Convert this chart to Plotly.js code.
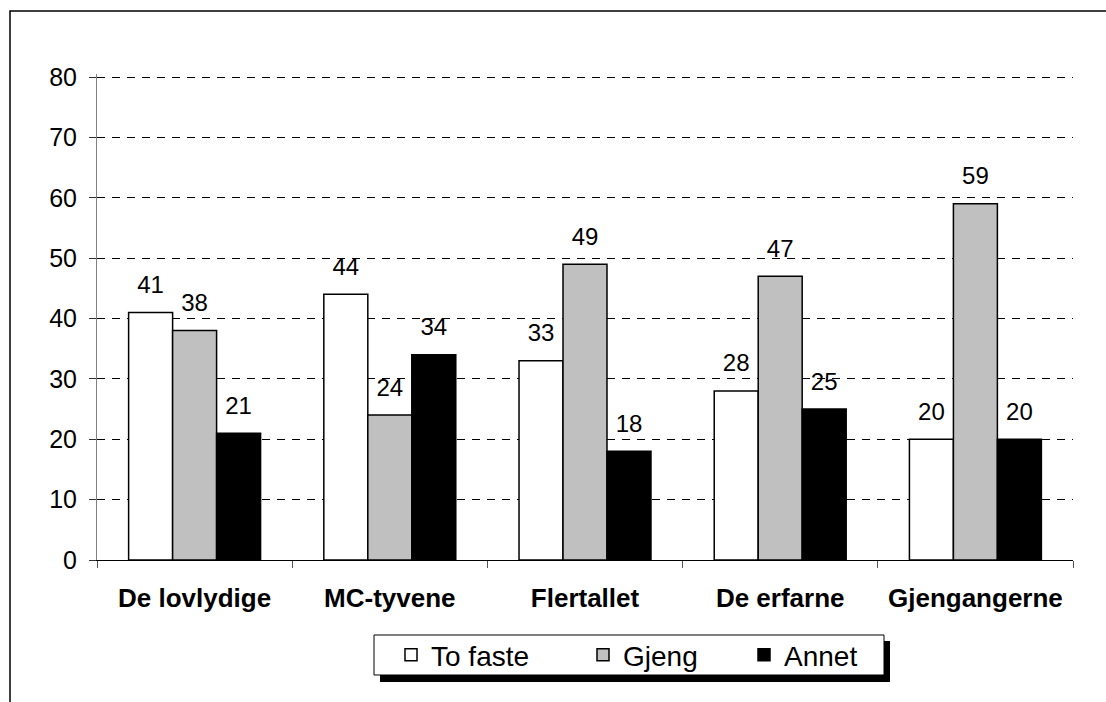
<!DOCTYPE html>
<html>
<head>
<meta charset="utf-8">
<script src="https://cdn.plot.ly/plotly-3.0.1.min.js"></script>
<style>
  html, body { margin: 0; padding: 0; background: #fff; }
  #chart { width: 1106px; height: 702px; }
</style>
</head>
<body>
<div id="chart"></div>
<script>
const categories = ["De lovlydige", "MC-tyvene", "Flertallet", "De erfarne", "Gjengangerne"];
const seriesNames = ["To faste", "Gjeng", "Annet"];
const toFaste = [41, 44, 33, 28, 20];
const gjeng = [38, 24, 49, 47, 59];
const annet = [21, 34, 18, 25, 20];
const yTicks = [0, 10, 20, 30, 40, 50, 60, 70, 80];

const seriesValues = [toFaste, gjeng, annet];
const fills = ["#ffffff", "#c0c0c0", "#000000"];
const legendWidths = [147, 116, undefined];
const font = "Liberation Sans, Arial, sans-serif";

const traces = [];
seriesValues.forEach((vals, i) => {
  const t = {
    type: "bar",
    name: seriesNames[i],
    x: categories,
    y: vals,
    marker: { color: fills[i], line: { color: "#000", width: 1.5 } },
    hoverinfo: "x+y+name"
  };
  if (legendWidths[i]) t.legendwidth = legendWidths[i];
  traces.push(t);
});
seriesValues.forEach((vals, i) => {
  traces.push({
    type: "scatter",
    mode: "markers+text",
    x: categories,
    y: vals,
    text: vals.map(String),
    textposition: "top center",
    textfont: { family: font, size: 24, color: "#000" },
    marker: { size: 20, opacity: 0 },
    showlegend: false,
    hoverinfo: "skip"
  });
});

// plot area: y=0 at 560px, y=80 at 77px; range extended slightly so the 80 gridline is drawn
const L = 97, R = 1073, B = 560;
const yMax = 80.5;
const T = B - (B - 77) * yMax / 80;
const px = v => (v - L) / (R - L);
const py = v => (B - v) / (B - T);

const layout = {
  width: 1106,
  height: 702,
  margin: { l: L, r: 1106 - R, t: T, b: 702 - B },
  paper_bgcolor: "#fff",
  plot_bgcolor: "#fff",
  barmode: "group",
  scattermode: "group",
  bargap: 0.324,
  bargroupgap: 0,
  showlegend: true,
  font: { family: font, color: "#000" },
  xaxis: {
    type: "category",
    showline: true,
    linecolor: "#000",
    linewidth: 1,
    ticks: "outside",
    tickson: "boundaries",
    ticklen: 7,
    tickcolor: "#555",
    tickfont: { family: font, size: 26, color: "#000", weight: "bold" },
    ticklabelstandoff: 15,
    showgrid: false,
    zeroline: false,
    fixedrange: true
  },
  yaxis: {
    range: [0, yMax],
    tickvals: yTicks,
    ticktext: yTicks.map(String),
    showline: true,
    linecolor: "#808080",
    linewidth: 1,
    ticks: "outside",
    ticklen: 7,
    tickcolor: "#333",
    tickfont: { family: font, size: 25, color: "#000" },
    ticklabelstandoff: 7,
    showgrid: true,
    gridcolor: "#000",
    gridwidth: 1,
    griddash: "8px,7px",
    zeroline: false,
    fixedrange: true
  },
  legend: {
    orientation: "h",
    x: px(391),
    xanchor: "left",
    y: py(655),
    yanchor: "middle",
    bgcolor: "rgba(0,0,0,0)",
    borderwidth: 0,
    font: { family: font, size: 28, color: "#000" },
    itemclick: false,
    itemdoubleclick: false
  },
  shapes: [
    { type: "path", xref: "paper", yref: "paper",
      path: `M ${px(10)},${py(720)} L ${px(10)},${py(11)} L ${px(1120)},${py(11)}`,
      line: { color: "#000", width: 1.5 } },
    { type: "rect", xref: "paper", yref: "paper",
      x0: px(380), x1: px(890), y0: py(682), y1: py(641),
      fillcolor: "#000", line: { width: 0 } },
    { type: "rect", xref: "paper", yref: "paper",
      x0: px(374), x1: px(884), y0: py(675), y1: py(635),
      fillcolor: "#fff", line: { color: "#000", width: 1 } }
  ]
};

Plotly.newPlot("chart", traces, layout, { displayModeBar: false });
</script>
</body>
</html>
